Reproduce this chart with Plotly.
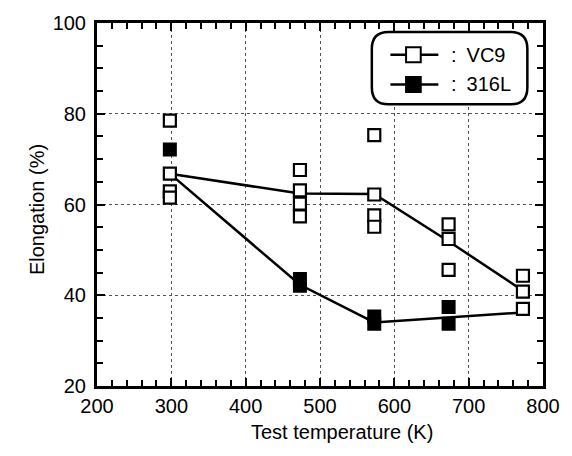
import plotly.graph_objects as go

# ---- data ----
vc9_temp = [298, 298, 298, 298, 473, 473, 473, 473, 573, 573, 573, 573, 673, 673, 673, 773, 773, 773]
vc9_elong = [78.5, 66.8, 62.9, 61.5, 67.6, 63.1, 60.2, 57.4, 75.3, 62.2, 57.6, 55.1, 55.6, 52.4, 45.6, 44.3, 40.8, 37.0]
l316_temp = [298, 473, 473, 573, 573, 673, 673]
l316_elong = [72.1, 43.6, 42.1, 35.3, 33.7, 37.4, 33.7]
mean_temp = [298, 473, 573, 673, 773]
vc9_mean = [66.8, 62.4, 62.3, 51.9, 41.0]
l316_mean = [66.8, 42.3, 34.0, 35.1, 36.2]
series_names = ["VC9", "316L"]

FONT = "Liberation Sans, Arial, Helvetica, sans-serif"

fig = go.Figure()
fig.add_trace(go.Scatter(x=mean_temp, y=vc9_mean, mode="lines",
                         line=dict(color="black", width=2.5), showlegend=False))
fig.add_trace(go.Scatter(x=mean_temp, y=l316_mean, mode="lines",
                         line=dict(color="black", width=2.5), showlegend=False))
fig.add_trace(go.Scatter(x=l316_temp, y=l316_elong, mode="markers",
                         marker=dict(symbol="square", size=12, color="black",
                                     line=dict(color="black", width=2)),
                         showlegend=False))
fig.add_trace(go.Scatter(x=vc9_temp, y=vc9_elong, mode="markers",
                         marker=dict(symbol="square", size=12, color="white",
                                     line=dict(color="black", width=2.2)),
                         showlegend=False))

# ---- legend (custom rounded box) ----
W, H = 456.0, 366.0  # plot area px (page coords 97..553, 20..386)
def px_x(p):
    return (p - 97) / W
def px_y(p):
    return (386 - p) / H

x0, x1, y0, y1 = px_x(378), px_x(537), px_y(102), px_y(29)
rx, ry = 17 / W, 17 / H
path = (f"M {x0+rx},{y0} L {x1-rx},{y0} Q {x1},{y0} {x1},{y0+ry} "
        f"L {x1},{y1-ry} Q {x1},{y1} {x1-rx},{y1} L {x0+rx},{y1} "
        f"Q {x0},{y1} {x0},{y1-ry} L {x0},{y0+ry} Q {x0},{y0} {x0+rx},{y0} Z")
shapes = [dict(type="path", path=path, xref="paper", yref="paper",
               line=dict(color="black", width=2.5), fillcolor="white", layer="above")]
rows = [(52, "white"), (82, "black")]
for (py, fill), name in zip(rows, series_names):
    shapes.append(dict(type="line", xref="paper", yref="paper",
                       x0=px_x(397), x1=px_x(446), y0=px_y(py), y1=px_y(py),
                       line=dict(color="black", width=2.5), layer="above"))
    shapes.append(dict(type="rect", xref="paper", yref="paper",
                       x0=px_x(413), x1=px_x(428), y0=px_y(py + 7.5), y1=px_y(py - 7.5),
                       line=dict(color="black", width=2), fillcolor=fill, layer="above"))
annotations = []
for (py, fill), name in zip(rows, series_names):
    annotations.append(dict(x=px_x(457), y=px_y(py), xref="paper", yref="paper",
                            text=":\u2002" + name, showarrow=False, xanchor="left",
                            yanchor="middle", font=dict(family=FONT, size=20, color="black")))

annotations.append(dict(x=px_x(348), y=px_y(445), xref="paper", yref="paper",
                        text="Test temperature (K)", showarrow=False,
                        font=dict(family=FONT, size=20, color="black")))
annotations.append(dict(x=px_x(23), y=px_y(208), xref="paper", yref="paper",
                        text="Elongation (%)", textangle=-90, showarrow=False,
                        font=dict(family=FONT, size=20, color="black")))

axis_common = dict(showline=True, linecolor="black", linewidth=3, mirror="ticks",
                   ticks="inside", ticklen=8, tickwidth=1.5, tickcolor="black",
                   showgrid=True, gridcolor="#555555", gridwidth=1, griddash="dot",
                   zeroline=False, tickfont=dict(family=FONT, size=20, color="black"))

fig.update_layout(
    width=572, height=456,
    margin=dict(l=97, r=19, t=20, b=70),
    paper_bgcolor="white", plot_bgcolor="white",
    xaxis=dict(range=[200, 800], dtick=100, tick0=200,
               minor=dict(ticks="inside", ticklen=6, dtick=20, tickwidth=1.5,
                          tickcolor="black", showgrid=False),
               **axis_common),
    yaxis=dict(range=[20, 100], dtick=20, tick0=20,
               minor=dict(ticks="inside", ticklen=6, dtick=5, tickwidth=1.5,
                          tickcolor="black", showgrid=False),
               ticklabelstandoff=4,
               **axis_common),
    shapes=shapes,
    annotations=annotations,
    showlegend=False,
)

fig.write_html(
    "out.html",
    config={"displayModeBar": False},
    post_script="document.body.style.margin='0';document.body.style.padding='0';"
                "document.documentElement.style.overflow='hidden';",
)
